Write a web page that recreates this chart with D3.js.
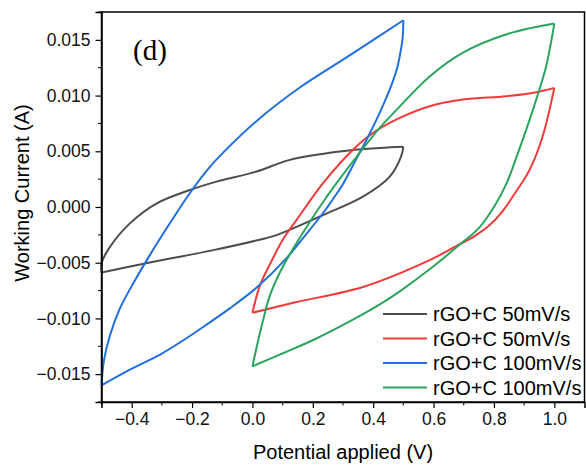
<!DOCTYPE html>
<html>
<head>
<meta charset="utf-8">
<script src="https://cdn.jsdelivr.net/npm/d3@7/dist/d3.min.js"></script>
<style>
  body { margin: 0; background: #fff; }
  svg { font-family: "Liberation Sans", Arial, sans-serif; }
</style>
</head>
<body>
<svg class="chart"></svg>
<script>
var width = 586,
	height = 466,
	margin = {top: 12, right: 1.5, bottom: 64, left: 101.5};

// series labels and colours
var seriesNames = ["rGO+C 50mV/s", "rGO+C 50mV/s", "rGO+C 100mV/s", "rGO+C 100mV/s"];
var seriesColors = ["#4d4d4d", "#f23a3a", "#1f6fe3", "#2aa55e"];

// each loop: [potential (V), current (A)], one array per sweep direction
var greyFwd = [[-0.5, -0.00588], [-0.356, -0.00507], [-0.13, -0.00387], [0.041, -0.00282], [0.08, -0.00252],
	[0.234, -0.00072], [0.366, 0.00093], [0.455, 0.00273], [0.492, 0.0045], [0.5, 0.0054]];
var greyRev = [[0.5, 0.0054], [0.422, 0.00529], [0.289, 0.00498], [0.124, 0.00423], [0.0135, 0.00318],
	[-0.119, 0.00228], [-0.207, 0.00153], [-0.317, 0.00033], [-0.406, -0.00147], [-0.472, -0.00358], [-0.5, -0.00505], [-0.5, -0.00588]];

var redFwd = [[0.0, -0.00949], [0.146, -0.00853], [0.366, -0.00718], [0.587, -0.00477], [0.675, -0.00351],
	[0.736, -0.00261], [0.786, -0.00162], [0.829, -0.00036], [0.868, 0.00117], [0.918, 0.00333],
	[0.961, 0.00631], [1.0, 0.01069]];
var redRev = [[1.0, 0.01069], [0.94, 0.0103], [0.841, 0.00994], [0.697, 0.00964], [0.587, 0.00904],
	[0.488, 0.00799], [0.399, 0.00664], [0.333, 0.00514], [0.234, 0.00214], [0.146, -0.00117],
	[0.102, -0.00288], [0.058, -0.00514], [0.025, -0.00703], [0.0, -0.00949]];

var blueFwd = [[-0.5, -0.016], [-0.492, -0.01378], [-0.472, -0.01153], [-0.439, -0.0091], [-0.389, -0.00658],
	[-0.34, -0.00432], [-0.273, -0.00144], [-0.207, 0.00126], [-0.141, 0.0036], [-0.098, 0.00486],
	[0.015, 0.00775], [0.157, 0.01072], [0.322, 0.0136], [0.5, 0.01676]];
var blueRev = [[0.5, 0.01676], [0.497, 0.01505], [0.489, 0.01369], [0.478, 0.01234], [0.461, 0.01099],
	[0.438, 0.00946], [0.411, 0.00784], [0.378, 0.00604], [0.339, 0.00405], [0.3, 0.00207],
	[0.267, 0.00072], [0.234, -0.00054], [0.173, -0.00261], [0.113, -0.00459], [0.015, -0.00721],
	[-0.075, -0.0091], [-0.151, -0.01054], [-0.23, -0.01198], [-0.306, -0.01324], [-0.406, -0.01459], [-0.5, -0.016]];

var greenFwd = [[0.0, -0.0143], [0.019, -0.01198], [0.041, -0.00955], [0.058, -0.00793], [0.091, -0.00586],
	[0.124, -0.00423], [0.19, -0.00135], [0.234, 0.00045], [0.289, 0.00252], [0.345, 0.0045],
	[0.422, 0.00712], [0.478, 0.00874], [0.587, 0.01171], [0.696, 0.01383], [0.842, 0.0155], [1.0, 0.01646]];
var greenRev = [[1.0, 0.01646], [0.973, 0.01264], [0.94, 0.00964], [0.907, 0.00694], [0.875, 0.0045],
	[0.841, 0.00207], [0.802, 0.00009], [0.753, -0.0018], [0.681, -0.00351], [0.587, -0.00559],
	[0.488, -0.00757], [0.422, -0.00874], [0.322, -0.01027], [0.212, -0.0118], [0.107, -0.01306], [0.0, -0.0143]];

var loops = [[greyFwd, greyRev], [redFwd, redRev], [blueFwd, blueRev], [greenFwd, greenRev]];

var xTicks = [-0.4, -0.2, 0.0, 0.2, 0.4, 0.6, 0.8, 1.0],
	xMinor = [-0.5, -0.3, -0.1, 0.1, 0.3, 0.5, 0.7, 0.9],
	yTicks = [-0.015, -0.01, -0.005, 0.0, 0.005, 0.01, 0.015],
	yMinor = [-0.0175, -0.0125, -0.0075, -0.0025, 0.0025, 0.0075, 0.0125, 0.0175];

var x = d3.scaleLinear()
	.domain([-0.5, 1.1])
	.range([margin.left, width - margin.right]);

var y = d3.scaleLinear()
	.domain([-0.0175, 0.0175])
	.range([height - margin.bottom, margin.top]);

var chart = d3.select(".chart")
	.attr("width", width)
	.attr("height", height);

// frame (top & right)
chart.append("rect")
	.attr("x", x(-0.5))
	.attr("y", y(0.0175))
	.attr("width", x(1.1) - x(-0.5))
	.attr("height", y(-0.0175) - y(0.0175))
	.attr("fill", "none")
	.attr("stroke", "#000")
	.attr("stroke-width", 1.5);

var line = d3.line()
	.x(function(d) { return x(d[0]); })
	.y(function(d) { return y(d[1]); })
	.curve(d3.curveCatmullRom.alpha(0.5));

loops.forEach(function(loop, i) {
	loop.forEach(function(branch) {
		chart.append("path")
			.datum(branch)
			.attr("d", line)
			.attr("fill", "none")
			.attr("stroke", seriesColors[i])
			.attr("stroke-width", 2)
			.attr("stroke-linejoin", "round");
	});
});

// axes
var xAxis = chart.append("g")
	.attr("transform", "translate(0," + y(-0.0175) + ")")
	.call(d3.axisBottom(x).tickValues(xTicks).tickFormat(d3.format(".1f")).tickSize(6).tickPadding(5));
xAxis.selectAll(".minor")
	.data(xMinor)
  .enter().append("line")
	.attr("x1", function(d) { return x(d); })
	.attr("x2", function(d) { return x(d); })
	.attr("y2", 3.5)
	.attr("stroke", "#000");

var yAxis = chart.append("g")
	.attr("transform", "translate(" + x(-0.5) + ",0)")
	.call(d3.axisLeft(y).tickValues(yTicks).tickFormat(d3.format(".3f")).tickSize(6).tickPadding(5));
yAxis.selectAll(".minor")
	.data(yMinor)
  .enter().append("line")
	.attr("y1", function(d) { return y(d); })
	.attr("y2", function(d) { return y(d); })
	.attr("x2", -3.5)
	.attr("stroke", "#000");

chart.selectAll(".domain").attr("stroke-width", 1.5);
chart.selectAll(".tick line").attr("stroke-width", 1.2);
chart.selectAll(".tick text")
	.attr("font-size", 17.5)
	.attr("font-family", "Liberation Sans, Arial, sans-serif")
	.attr("fill", "#111");

chart.append("text")
	.attr("x", (x(-0.5) + x(1.1)) / 2)
	.attr("y", 459)
	.attr("text-anchor", "middle")
	.attr("font-size", 20)
	.text("Potential applied (V)");

chart.append("text")
	.attr("transform", "translate(29,193) rotate(-90)")
	.attr("text-anchor", "middle")
	.attr("font-size", 20)
	.text("Working Current (A)");

chart.append("text")
	.attr("x", 133)
	.attr("y", 60)
	.attr("font-family", "Liberation Serif, Times New Roman, serif")
	.attr("font-size", 29)
	.text("(d)");

// legend
var legend = chart.selectAll(".legend")
	.data(seriesNames)
  .enter().append("g")
	.attr("transform", function(d, i) { return "translate(383," + (314 + i * 24.5) + ")"; });

legend.append("line")
	.attr("x2", 44)
	.attr("stroke", function(d, i) { return seriesColors[i]; })
	.attr("stroke-width", 2);

legend.append("text")
	.attr("x", 50)
	.attr("dy", ".35em")
	.attr("font-size", 20)
	.text(function(d) { return d; });
</script>
</body>
</html>
